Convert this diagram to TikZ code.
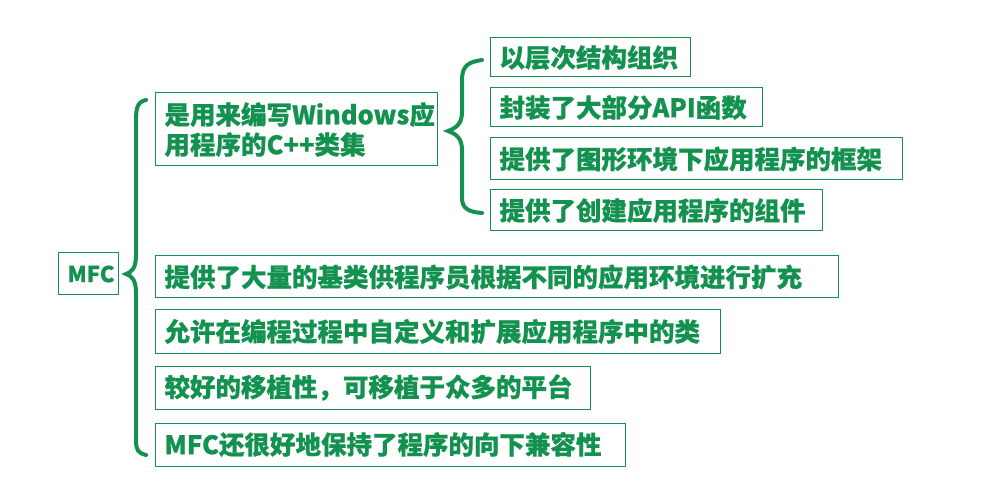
\documentclass[tikz,border=0pt]{standalone}
\usepackage{fontspec}
\setmainfont{Noto Sans CJK SC}[FakeBold=0.6]
\definecolor{g}{HTML}{13914F}
\begin{document}
\begin{tikzpicture}[x=1pt,y=-1pt,
 bx/.style={draw=g,line width=1pt,text=g,font=\fontsize{25.5}{30}\bfseries,inner sep=0pt},
 br/.style={draw=g,line width=4pt,line cap=round}]
\useasboundingbox (0,0) rectangle (988,494);
\newcommand{\bxx}[6]{\draw[draw=g,line width=1pt] (#1,#2) rectangle (#3,#4);
 \node[bx,draw=none,anchor=west,align=left] (#5) at (#1+9,{(#2+#4)/2}) {#6};}
\bxx{58}{253}{118}{295}{mfc}{\fontsize{22}{26}\selectfont MFC}
\bxx{155}{93}{437}{166}{b1}{是用来编写Windows应\\用程序的C++类集}
\bxx{490}{38}{690}{77}{s1}{以层次结构组织}
\bxx{490}{88}{762}{127}{s2}{封装了大部分API函数}
\bxx{490}{138}{902}{180}{s3}{提供了图形环境下应用程序的框架}
\bxx{490}{190}{822}{231}{s4}{提供了创建应用程序的组件}
\bxx{155}{256}{838}{298}{e}{提供了大量的基类供程序员根据不同的应用环境进行扩充}
\bxx{155}{310}{720}{353}{f}{允许在编程过程中自定义和扩展应用程序中的类}
\bxx{155}{366}{590}{409}{g2}{较好的移植性，可移植于众多的平台}
\bxx{155}{423}{625}{466}{h}{MFC还很好地保持了程序的向下兼容性}
% big brace
\draw[br] (146,100) .. controls (136,102) and (136,110) .. (136,125) -- (136,255)
 .. controls (136,268) and (132,272) .. (126,274)
 .. controls (132,276) and (136,280) .. (136,293) -- (136,440)
 .. controls (136,450) and (138,453) .. (146,455);
% small brace
\draw[br] (482,60) .. controls (468,62) and (462,66) .. (462,80) -- (462,112)
 .. controls (462,124) and (456,128) .. (448,131)
 .. controls (456,134) and (462,138) .. (462,150) -- (462,198)
 .. controls (462,208) and (468,212) .. (482,213);
\end{tikzpicture}
\end{document}
